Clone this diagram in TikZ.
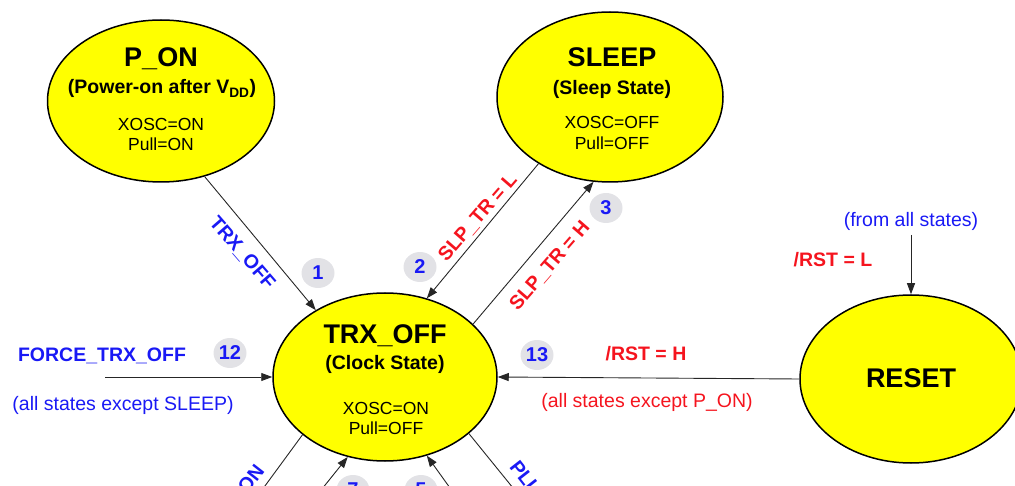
\documentclass[tikz,border=0pt]{standalone}
\usepackage{fontspec}
\setmainfont{Liberation Sans}
\usepackage{tikz}
\usetikzlibrary{arrows.meta,shapes.geometric}
\definecolor{stateyel}{RGB}{255,255,0}
\definecolor{cmdblue}{RGB}{25,25,245}
\definecolor{pinred}{RGB}{245,20,30}
\definecolor{tagfill}{RGB}{226,226,230}
\newcommand{\fsz}[1]{\fontsize{#1}{#1}\selectfont}

\begin{document}
\begin{tikzpicture}[x=1pt,y=-1pt,>={Triangle[length=11pt,width=8pt]},
  state/.style={ellipse,draw,line width=1.5pt,fill=stateyel,inner sep=0pt},
  hd/.style={anchor=base,font=\fsz{27}\bfseries},
  sub/.style={anchor=base,font=\fsz{19.5}\bfseries},
  cfg/.style={anchor=base,font=\fsz{17.5}},
  tag/.style={ellipse,fill=tagfill,minimum width=33pt,minimum height=30pt,inner sep=0pt,text=cmdblue,font=\fsz{20}\bfseries},
  cmd/.style={font=\fsz{19.5}\bfseries},
  note/.style={anchor=base,font=\fsz{19.5}},
  edge/.style={->,line width=0.9pt,draw=black!85}]
  \useasboundingbox (0,0) rectangle (1015,486);
  \clip (0,0) rectangle (1015,486);
  % states
  \node[state,minimum width=227pt,minimum height=162pt] (pon) at (161,101) {};
  \node[state,minimum width=226pt,minimum height=170pt] (slp) at (610,97) {};
  \node[state,minimum width=224pt,minimum height=168pt] (trx) at (385,377) {};
  \node[state,minimum width=222pt,minimum height=168pt] (rst) at (911,379) {};
  \node[hd] (ponT) at (161,67) {P\_ON};
  \node[sub] (ponS) at (162,94) {(Power-on after V\textsubscript{DD})};
  \node[hd] (slpT) at (612,67) {SLEEP};
  \node[sub] (slpS) at (612,95) {(Sleep State)};
  \node[hd] (trxT) at (385,344) {TRX\_OFF};
  \node[sub] (trxS) at (385,370) {(Clock State)};
  \node[hd] (rstT) at (911,388) {RESET};
  \foreach \n/\x/\y/\t in {ponA/161/131/XOSC=ON,ponB/161/151/Pull=ON,slpA/612/129/XOSC=OFF,slpB/612/150/Pull=OFF,trxA/386/414/XOSC=ON,trxB/386/434/Pull=OFF}
    \node[cfg] (\n) at (\x,\y) {\t};
  % transitions
  \draw[edge] (pon.-60) -- (trx.136);
  \draw[edge] (slp.223) -- (trx.62);
  \draw[edge] (trx.31) -- (slp.259);
  \coordinate (frc) at (105,377);
  \draw[edge] (frc) -- (trx.west);
  \draw[edge] (rst.west) -- (trx.east);
  \coordinate (anyst) at (911,235);
  \draw[edge] (anyst) -- (rst.north);
  \coordinate (rxon) at (240,520);
  \coordinate (rxback) at (297,520);
  \coordinate (pllback) at (473,520);
  \coordinate (pllon) at (539,520);
  \draw[edge] (trx.215) -- (rxon);
  \draw[edge] (rxback) -- (trx.245);
  \draw[edge] (pllback) -- (trx.298);
  \draw[edge] (trx.326) -- (pllon);
  % labels
  \node[cmd,text=cmdblue,rotate=-49] (l1) at (242,253) {TRX\_OFF};
  \node[cmd,text=pinred,rotate=49] (l2) at (478,218) {SLP\_TR = L};
  \node[cmd,text=pinred,rotate=49] (l3) at (550,266) {SLP\_TR = H};
  \node[cmd,text=cmdblue,rotate=52,anchor=east] (l6) at (263,465) {RX\_ON};
  \node[cmd,text=cmdblue,rotate=-52,anchor=west] (l4) at (511,461) {PLL\_ON};
  \node[cmd,anchor=base,text=cmdblue] (l12) at (102,362) {FORCE\_TRX\_OFF};
  \node[note,text=cmdblue] (l12b) at (123,410) {(all states except SLEEP)};
  \node[cmd,anchor=base,text=pinred] (l13) at (646,360) {/RST = H};
  \node[note,text=pinred] (l13b) at (647,407) {(all states except P\_ON)};
  \node[note,text=cmdblue] (lall) at (911,227) {(from all states)};
  \node[cmd,anchor=base,text=pinred] (lrst) at (833,267) {/RST = L};
  \foreach \n/\x/\y in {1/318/273,2/420/267,3/606/208,12/230/353,13/537/355,7/353/490,5/421/490}
    \node[tag] (tag\n) at (\x,\y) {\n};
\end{tikzpicture}
\end{document}
